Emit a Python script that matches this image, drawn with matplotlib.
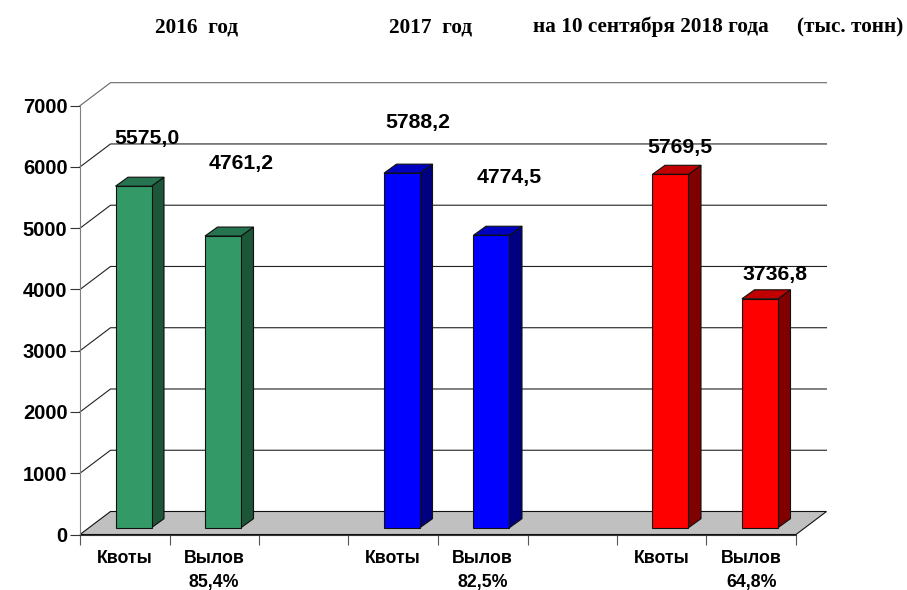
import matplotlib
matplotlib.use("Agg")
import matplotlib.pyplot as plt
from matplotlib.patches import Polygon

# данные
categories = ["Квоты", "Вылов\n85,4%", "", "Квоты", "Вылов\n82,5%", "", "Квоты", "Вылов\n64,8%"]
values = [5575.0, 4761.2, None, 5788.2, 4774.5, None, 5769.5, 3736.8]
value_labels = ["5575,0", "4761,2", "", "5788,2", "4774,5", "", "5769,5", "3736,8"]
y_ticks = [0, 1000, 2000, 3000, 4000, 5000, 6000, 7000]
headers = ["2016  год", "2017  год", "на 10 сентября 2018 года", "(тыс. тонн)"]

# стиль: лицо, бок, верх
FRONT = ["#339966", "#339966", None, "#0000ff", "#0000ff", None, "#ff0000", "#ff0000"]
SIDE = ["#1c5537", "#1c5537", None, "#000080", "#000080", None, "#800000", "#800000"]
TOP = ["#267350", "#267350", None, "#0000c0", "#0000c0", None, "#c00000", "#c00000"]
LABEL_OFFSET = [(31.5, 48), (36.5, 73), None, (34, 51), (36, 58), None, (27, 27), (33.5, 24.5)]  # пиксели от верха столбика
HEADER_X = [197, 431, 651, 850]

W, H = 907, 590
fig = plt.figure(figsize=(W / 100, H / 100), dpi=100)
ax = fig.add_axes([80 / W, 1 - 534.5 / H, 716 / W, 428.8 / H])
ax.set_xlim(0, 8)
ax.set_ylim(0, 7000)

px_x = 8 / 716
px_y = 7000 / 428.8
wall_dx, wall_dy = 30.5 * px_x, 23 * px_y

# пол и сетка
ax.add_patch(Polygon([(0, 0), (8, 0), (8 + wall_dx, wall_dy), (wall_dx, wall_dy)],
                     closed=True, fc="#c0c0c0", ec="#111111", lw=0.8, clip_on=False, zorder=1))
for v in y_ticks[1:]:
    c = "#666666" if v == 7000 else "#222222"
    ax.plot([0, wall_dx, 8 + wall_dx], [v, v + wall_dy, v + wall_dy], color=c, lw=0.8,
            clip_on=False, zorder=0.5)

# столбики
bar_off = 35.5 * px_x
bar_w = 36 * px_x
base = 6.8 * px_y
dx, dy = 12.5 * px_x, 9 * px_y
for i, v in enumerate(values):
    if v is None:
        continue
    x0 = i + bar_off
    x1 = x0 + bar_w
    y1 = base + v
    ax.add_patch(Polygon([(x1, base), (x1 + dx, base + dy), (x1 + dx, y1 + dy), (x1, y1)],
                         closed=True, fc=SIDE[i], ec="#111111", lw=0.8, clip_on=False, zorder=3))
    ax.add_patch(Polygon([(x0, y1), (x1, y1), (x1 + dx, y1 + dy), (x0 + dx, y1 + dy)],
                         closed=True, fc=TOP[i], ec="#111111", lw=0.8, clip_on=False, zorder=3))
    ax.add_patch(Polygon([(x0, base), (x1, base), (x1, y1), (x0, y1)],
                         closed=True, fc=FRONT[i], ec="#111111", lw=0.8, clip_on=False, zorder=4))
    off = LABEL_OFFSET[i]
    ax.annotate(value_labels[i], (x0, y1), xytext=(off[0] * 0.72, off[1] * 0.72),
                textcoords="offset points", ha="center", va="center",
                fontsize=15.3, fontweight="bold", family="Liberation Sans", zorder=5,
                annotation_clip=False)

# оси
for s in ["top", "right"]:
    ax.spines[s].set_visible(False)
ax.spines["left"].set_color("#808080")
ax.spines["bottom"].set_color("#333333")
ax.patch.set_alpha(0)
ax.set_yticks(y_ticks)
ax.set_yticklabels([str(v) for v in y_ticks], fontsize=14.5, fontweight="bold", family="Liberation Sans")
ax.tick_params(axis="y", length=7, width=0.8, color="#333333", pad=2)
ax.set_xticks(range(9))
ax.set_xticklabels([])
ax.tick_params(axis="x", length=7, width=0.8, color="#555555")
ax.set_xticks([i + 0.5 for i in range(8)], minor=True)
ax.set_xticklabels(categories, minor=True, fontsize=12.8, fontweight="bold",
                   family="Liberation Sans", linespacing=1.5)
ax.tick_params(axis="x", which="minor", length=0, pad=11.5)

# заголовки
for text, x in zip(headers, HEADER_X):
    fig.text(x / W, 1 - 27 / H, text, ha="center", va="center", fontsize=15.3,
             fontweight="bold", family="Liberation Serif")

fig.savefig("out.png", dpi=100)
